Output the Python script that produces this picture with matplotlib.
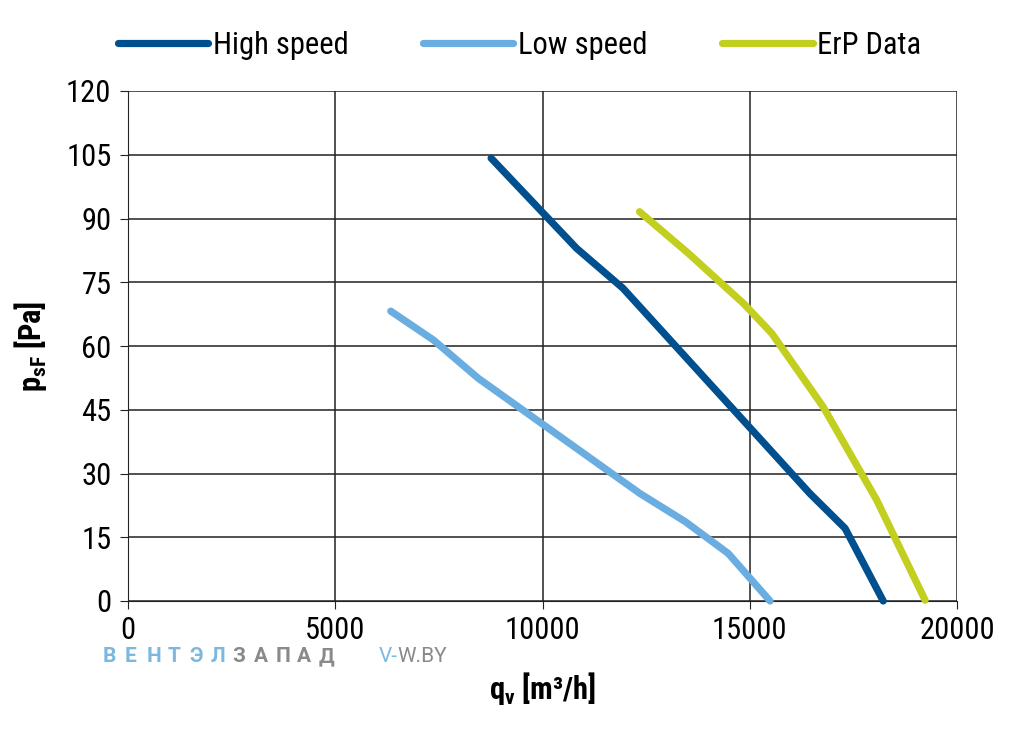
import matplotlib
matplotlib.use("Agg")
import matplotlib.pyplot as plt

plt.rcParams['font.family'] = ['Roboto Condensed', 'DejaVu Sans']

high_q = [8760, 10820, 11940, 16450, 17300, 18220]
high_p = [104.2, 83.0, 73.6, 25.3, 17.1, 0]

low_q = [6340, 7370, 8450, 12350, 13440, 14480, 15490]
low_p = [68.2, 61.4, 52.4, 25.3, 18.7, 11.2, 0]

erp_q = [12340, 13520, 14850, 15530, 16770, 18060, 19230]
erp_p = [91.6, 81.8, 70.0, 63.0, 45.7, 23.8, 0.2]

x_ticks = [0, 5000, 10000, 15000, 20000]
y_ticks = [0, 15, 30, 45, 60, 75, 90, 105, 120]

wm_left = list('ВЕНТЭЛ')
wm_right = list('ЗАПАД')

fig = plt.figure(figsize=(10.17, 7.33), dpi=100)
ax = fig.add_axes([128/1017, 1 - 601/733, (957-128)/1017, (601-91)/733])

lw = 5.2
ax.plot(high_q, high_p, color='#00508f', lw=lw, solid_capstyle='round', solid_joinstyle='round', label='High speed', zorder=3)
ax.plot(low_q, low_p, color='#6aade0', lw=lw, solid_capstyle='round', solid_joinstyle='round', label='Low speed', zorder=3)
ax.plot(erp_q, erp_p, color='#c3cf1f', lw=lw, solid_capstyle='round', solid_joinstyle='round', label='ErP Data', zorder=3)

ax.set_xlim(0, 20000)
ax.set_ylim(0, 120)
ax.set_xticks(x_ticks)
ax.set_yticks(y_ticks)
ax.grid(True, color='#222222', lw=1.1)
for s in ['top', 'right']:
    ax.spines[s].set_visible(False)
ax.spines['left'].set_color('#222222')
ax.spines['bottom'].set_color('#222222')
ax.tick_params(axis='both', labelsize=22, length=6, color='#222222', direction='out')
ax.tick_params(axis='x', pad=5)
ax.tick_params(axis='y', pad=6)
for ln in ax.lines:
    ln.set_clip_on(False)

ax.set_ylabel(r'p$_{\mathregular{sF}}$ [Pa]', fontsize=22, fontweight='bold', labelpad=12)
ax.set_xlabel(r'q$_{\mathregular{v}}$ [m³/h]', fontsize=22, fontweight='bold', labelpad=18)

fig.legend(loc='center left', bbox_to_anchor=(118/1017, 1 - 45/733), ncol=3, frameon=False,
           fontsize=22, handlelength=2.95, handletextpad=0.15, columnspacing=2.45,
           borderpad=0, borderaxespad=0)

# watermark
wy = 1 - 657/733
for i, ch in enumerate(wm_left + wm_right):
    col = '#7ab8e0' if i < len(wm_left) else '#8a8a8a'
    fig.text((103 + 21.6 * i)/1017, wy, ch, color=col, fontsize=15, fontweight='bold',
             family=['Roboto', 'DejaVu Sans'], va='center')
fig.text(379/1017, wy, 'V-', color='#7ab8e0', fontsize=15, family=['Roboto', 'DejaVu Sans'], va='center')
fig.text(397/1017, wy, 'W.BY', color='#8a8a8a', fontsize=15, family=['Roboto', 'DejaVu Sans'], va='center')

fig.savefig('out.png', dpi=100)
